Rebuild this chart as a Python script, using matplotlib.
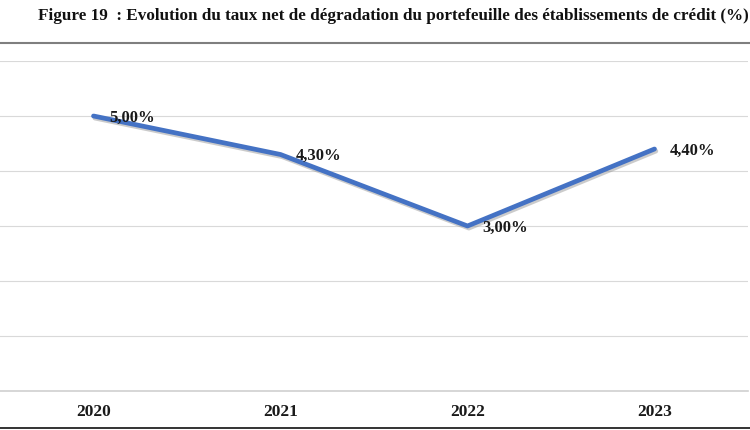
import matplotlib
matplotlib.use("Agg")
import matplotlib.pyplot as plt
import matplotlib.patheffects as pe
from matplotlib.lines import Line2D

years = ["2020", "2021", "2022", "2023"]
rates = [5.00, 4.30, 3.00, 4.40]
labels = ["5,00%", "4,30%", "3,00%", "4,40%"]
title = "Figure 19  : Evolution du taux net de dégradation du portefeuille des établissements de crédit (%)"

serif = ["Liberation Serif", "DejaVu Serif"]

fig = plt.figure(figsize=(7.5, 4.3), dpi=100)
ax = fig.add_axes([0.0, 39/430, 748/750, 330/430])

x = list(range(len(years)))
ax.plot(x, rates, color="#4472C4", lw=3.4, solid_capstyle="round", solid_joinstyle="round",
        path_effects=[pe.SimpleLineShadow(offset=(1, -1.5), shadow_color="#999999", alpha=0.5),
                      pe.Normal()], zorder=3)

for xi, v, t in zip(x, rates, labels):
    ax.annotate(t, (xi, v), xytext=(11, -1.2), textcoords="offset points",
                ha="left", va="center", fontsize=12, fontweight="bold",
                family=serif, color="#1a1a1a", zorder=4)

ax.set_xlim(-0.5, 3.5)
ax.set_ylim(0, 6)
ax.set_yticks([0, 1, 2, 3, 4, 5, 6])
ax.yaxis.grid(True, color="#d9d9d9", lw=0.8)
ax.set_axisbelow(True)
ax.tick_params(axis="y", left=False, labelleft=False)
ax.tick_params(axis="x", bottom=False, pad=6)
ax.set_xticks(x)
ax.set_xticklabels(years, fontsize=12.5, fontweight="bold", family=serif, color="#1a1a1a")
for s in ["top", "right", "left"]:
    ax.spines[s].set_visible(False)
ax.spines["bottom"].set_color("#d0d0d0")
ax.spines["bottom"].set_linewidth(1.2)

fig.text(38/750, 1 - 16/430, title, ha="left", va="center", fontsize=12.3,
         fontweight="bold", family=serif, color="#111111")

fig.add_artist(Line2D([0, 1], [1 - 43/430, 1 - 43/430], color="#7f7f7f", lw=1.5,
                      transform=fig.transFigure))
fig.add_artist(Line2D([0, 1], [1 - 428/430, 1 - 428/430], color="#111111", lw=1.2,
                      transform=fig.transFigure))

fig.savefig("out.png", dpi=100)
